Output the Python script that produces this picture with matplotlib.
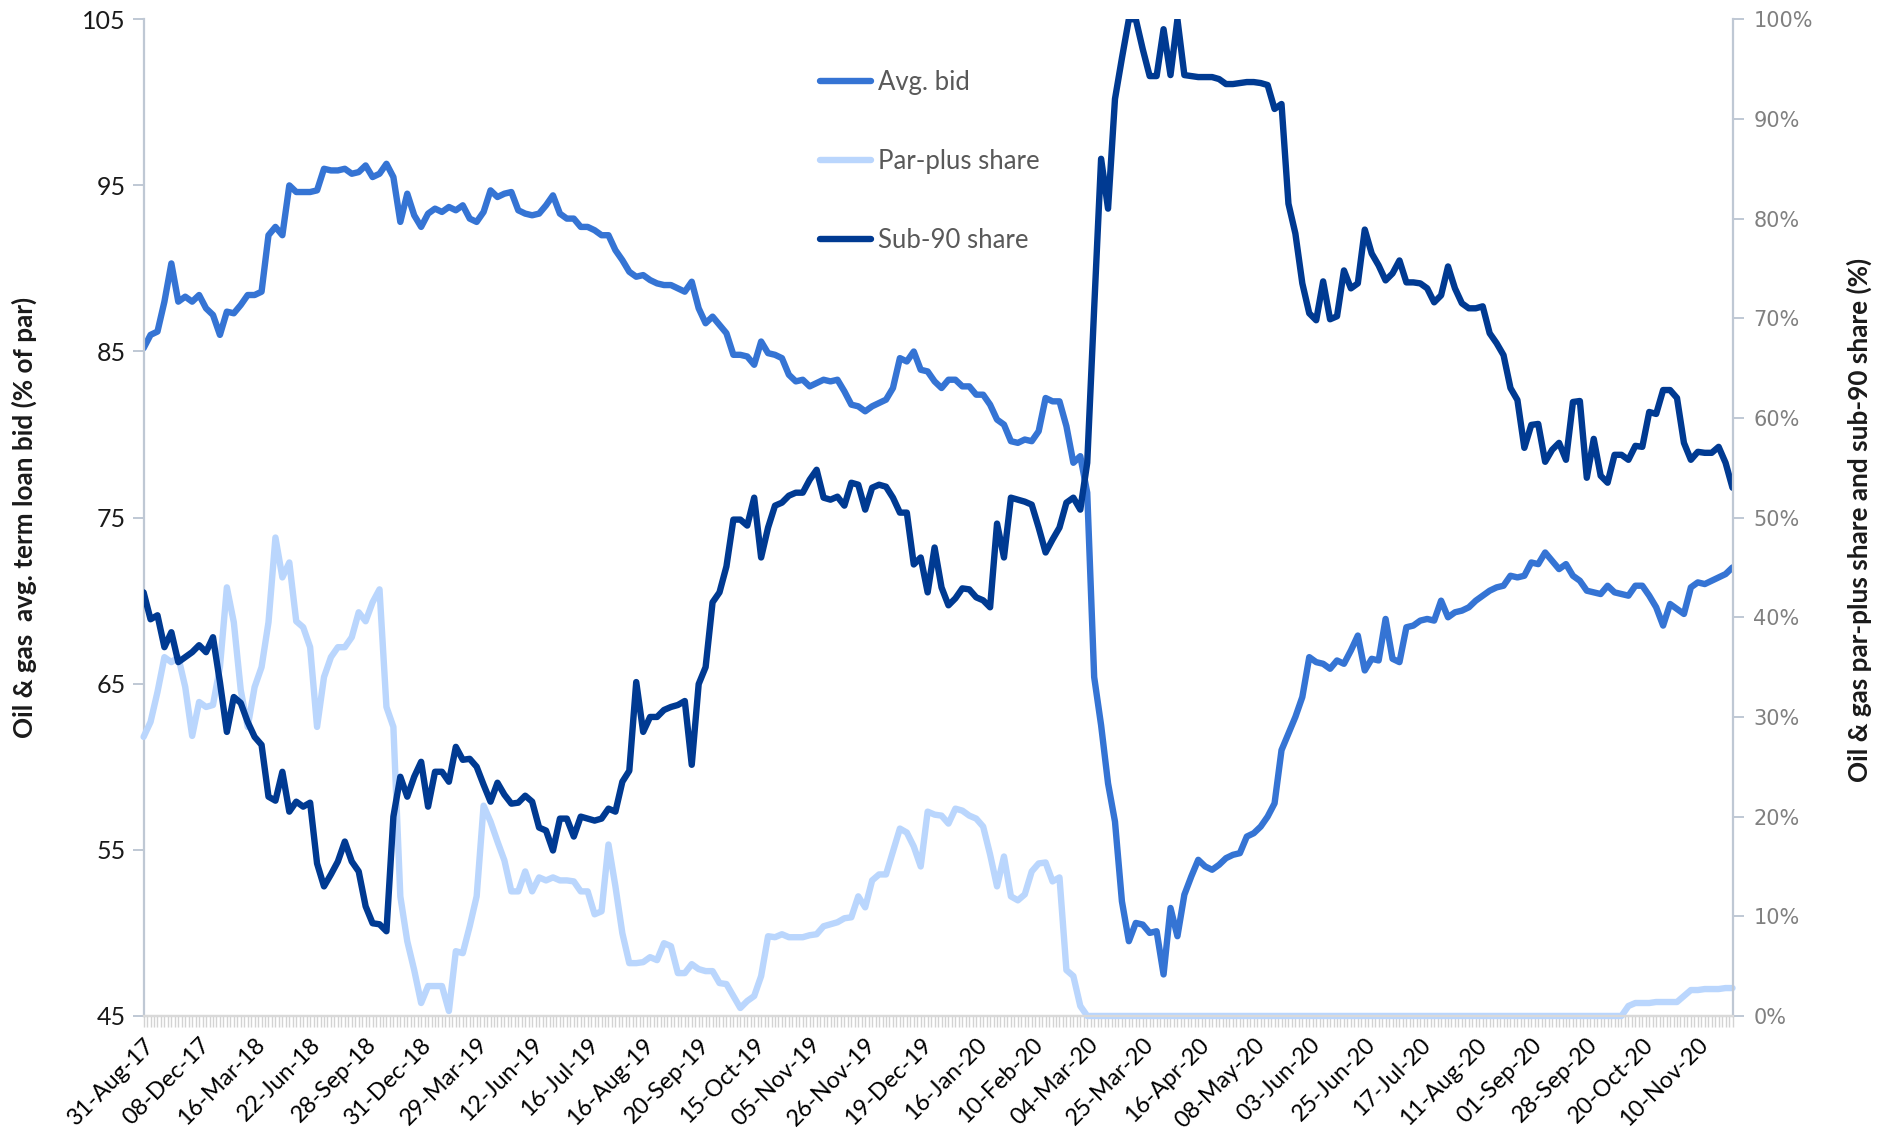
import numpy as np
import matplotlib
matplotlib.use('Agg')
import matplotlib.pyplot as plt
from matplotlib.ticker import MultipleLocator, FuncFormatter

plt.rcParams['font.family'] = ['Lato', 'DejaVu Sans']

# category axis: one label every 8 observations
date_labels = ['31-Aug-17', '08-Dec-17', '16-Mar-18', '22-Jun-18', '28-Sep-18',
               '31-Dec-18', '29-Mar-19', '12-Jun-19', '16-Jul-19', '16-Aug-19',
               '20-Sep-19', '15-Oct-19', '05-Nov-19', '26-Nov-19', '19-Dec-19',
               '16-Jan-20', '10-Feb-20', '04-Mar-20', '25-Mar-20', '16-Apr-20',
               '08-May-20', '03-Jun-20', '25-Jun-20', '17-Jul-20', '11-Aug-20',
               '01-Sep-20', '28-Sep-20', '20-Oct-20', '10-Nov-20']
label_step = 8

# avg. term loan bid (% of par), left axis
avg_bid = [
    85.2, 86.0, 86.2, 88.0, 90.3, 88.0, 88.3, 88.0, 88.4, 87.6,
    87.2, 86.0, 87.4, 87.3, 87.8, 88.4, 88.4, 88.6, 92.0, 92.5,
    92.0, 95.0, 94.6, 94.6, 94.6, 94.7, 96.0, 95.9, 95.9, 96.0,
    95.7, 95.8, 96.2, 95.5, 95.7, 96.3, 95.5, 92.8, 94.5, 93.2,
    92.5, 93.3, 93.6, 93.4, 93.7, 93.5, 93.8, 93.0, 92.8, 93.4,
    94.7, 94.3, 94.5, 94.6, 93.5, 93.3, 93.2, 93.3, 93.8, 94.4,
    93.3, 93.0, 93.0, 92.5, 92.5, 92.3, 92.0, 92.0, 91.1, 90.5,
    89.8, 89.5, 89.6, 89.3, 89.1, 89.0, 89.0, 88.8, 88.6, 89.2,
    87.6, 86.7, 87.1, 86.6, 86.1, 84.8, 84.8, 84.7, 84.2, 85.6,
    84.9, 84.8, 84.6, 83.6, 83.2, 83.3, 82.9, 83.1, 83.3, 83.2,
    83.3, 82.6, 81.8, 81.7, 81.4, 81.7, 81.9, 82.1, 82.8, 84.6,
    84.4, 85.0, 83.9, 83.8, 83.2, 82.8, 83.3, 83.3, 82.9, 82.9,
    82.4, 82.4, 81.8, 80.9, 80.6, 79.6, 79.5, 79.7, 79.6, 80.2,
    82.2, 82.0, 82.0, 80.5, 78.3, 78.7, 76.5, 65.4, 62.5, 59.0,
    56.7, 51.9, 49.5, 50.6, 50.5, 50.0, 50.1, 47.5, 51.5, 49.8,
    52.3, 53.4, 54.4, 54.0, 53.8, 54.1, 54.5, 54.7, 54.8, 55.8,
    56.0, 56.4, 57.0, 57.8, 61.0, 62.0, 63.0, 64.2, 66.6, 66.3,
    66.2, 65.9, 66.4, 66.2, 67.0, 67.9, 65.8, 66.5, 66.4, 68.9,
    66.5, 66.3, 68.4, 68.5, 68.8, 68.9, 68.8, 70.0, 69.0, 69.3,
    69.4, 69.6, 70.0, 70.3, 70.6, 70.8, 70.9, 71.5, 71.4, 71.5,
    72.3, 72.2, 72.9, 72.4, 71.9, 72.2, 71.5, 71.2, 70.6, 70.5,
    70.4, 70.9, 70.5, 70.4, 70.3, 70.9, 70.9, 70.3, 69.6, 68.5,
    69.8, 69.5, 69.2, 70.8, 71.1, 71.0, 71.2, 71.4, 71.6, 72.0,
]

# par-plus share (%), right axis
par_plus_share = [
    28.0, 29.5, 32.5, 36.0, 35.5, 36.0, 33.0, 28.1, 31.5, 31.0,
    31.2, 35.0, 43.0, 39.5, 32.7, 29.0, 33.0, 35.0, 39.5, 48.0,
    44.0, 45.5, 39.6, 39.0, 37.0, 29.0, 34.0, 36.0, 37.0, 37.0,
    38.0, 40.5, 39.6, 41.5, 42.8, 31.0, 29.0, 12.0, 7.5, 4.6,
    1.3, 3.0, 3.0, 3.0, 0.5, 6.5, 6.3, 9.0, 12.0, 21.1,
    19.5, 17.5, 15.6, 12.5, 12.5, 14.5, 12.5, 13.9, 13.6, 13.9,
    13.6, 13.6, 13.5, 12.5, 12.5, 10.2, 10.5, 17.2, 13.0, 8.3,
    5.3, 5.3, 5.4, 5.9, 5.6, 7.3, 7.0, 4.3, 4.3, 5.2,
    4.7, 4.5, 4.5, 3.3, 3.2, 2.0, 0.8, 1.5, 2.0, 4.0,
    8.0, 7.9, 8.2, 7.9, 7.9, 7.9, 8.1, 8.2, 9.0, 9.2,
    9.4, 9.8, 9.9, 12.0, 10.9, 13.6, 14.2, 14.2, 16.5, 18.8,
    18.4, 17.0, 15.0, 20.5, 20.2, 20.1, 19.3, 20.8, 20.6, 20.1,
    19.8, 19.0, 16.2, 13.0, 16.0, 12.0, 11.6, 12.2, 14.5, 15.3,
    15.4, 13.5, 13.9, 4.6, 4.0, 1.0, 0.0, 0.0, 0.0, 0.0,
    0.0, 0.0, 0.0, 0.0, 0.0, 0.0, 0.0, 0.0, 0.0, 0.0,
    0.0, 0.0, 0.0, 0.0, 0.0, 0.0, 0.0, 0.0, 0.0, 0.0,
    0.0, 0.0, 0.0, 0.0, 0.0, 0.0, 0.0, 0.0, 0.0, 0.0,
    0.0, 0.0, 0.0, 0.0, 0.0, 0.0, 0.0, 0.0, 0.0, 0.0,
    0.0, 0.0, 0.0, 0.0, 0.0, 0.0, 0.0, 0.0, 0.0, 0.0,
    0.0, 0.0, 0.0, 0.0, 0.0, 0.0, 0.0, 0.0, 0.0, 0.0,
    0.0, 0.0, 0.0, 0.0, 0.0, 0.0, 0.0, 0.0, 0.0, 0.0,
    0.0, 0.0, 0.0, 0.0, 1.0, 1.3, 1.3, 1.3, 1.4, 1.4,
    1.4, 1.4, 2.0, 2.6, 2.6, 2.7, 2.7, 2.7, 2.8, 2.8,
]

# sub-90 share (%), right axis
sub_90_share = [
    42.5, 39.8, 40.2, 37.0, 38.5, 35.5, 36.0, 36.5, 37.2, 36.5,
    38.0, 33.5, 28.5, 32.0, 31.4, 29.5, 28.0, 27.2, 22.0, 21.6,
    24.5, 20.5, 21.5, 21.0, 21.4, 15.3, 13.0, 14.2, 15.5, 17.5,
    15.5, 14.5, 11.0, 9.3, 9.2, 8.5, 20.0, 24.0, 22.0, 24.0,
    25.5, 21.0, 24.5, 24.5, 23.5, 27.0, 25.7, 25.8, 25.0, 23.2,
    21.5, 23.4, 22.2, 21.3, 21.4, 22.1, 21.5, 18.9, 18.6, 16.6,
    19.8, 19.8, 18.0, 20.0, 19.8, 19.6, 19.8, 20.8, 20.5, 23.5,
    24.6, 33.5, 28.5, 30.0, 30.0, 30.7, 31.0, 31.2, 31.6, 25.2,
    33.3, 35.0, 41.5, 42.5, 45.1, 49.8, 49.8, 49.2, 52.0, 46.0,
    49.0, 51.2, 51.5, 52.2, 52.5, 52.5, 53.8, 54.8, 52.0, 51.8,
    52.1, 51.2, 53.5, 53.3, 50.8, 53.0, 53.3, 53.1, 52.0, 50.5,
    50.5, 45.3, 46.0, 42.5, 47.0, 43.0, 41.2, 41.9, 42.9, 42.8,
    42.0, 41.7, 41.0, 49.4, 46.0, 52.0, 51.8, 51.6, 51.3, 49.0,
    46.5, 47.8, 49.0, 51.5, 52.0, 50.8, 55.5, 71.0, 86.0, 81.0,
    92.0, 96.1, 100.0, 100.0, 97.0, 94.3, 94.3, 99.0, 94.4, 100.0,
    94.4, 94.3, 94.2, 94.2, 94.2, 94.0, 93.5, 93.5, 93.6, 93.7,
    93.7, 93.6, 93.4, 91.0, 91.5, 81.5, 78.5, 73.5, 70.5, 69.8,
    73.7, 69.9, 70.2, 74.8, 73.0, 73.5, 78.9, 76.5, 75.3, 73.8,
    74.5, 75.8, 73.6, 73.6, 73.5, 73.0, 71.6, 72.3, 75.2, 73.0,
    71.5, 71.0, 71.0, 71.2, 68.5, 67.5, 66.3, 63.0, 61.8, 57.0,
    59.3, 59.4, 55.6, 56.8, 57.5, 55.8, 61.6, 61.7, 54.0, 57.9,
    54.2, 53.5, 56.3, 56.3, 55.8, 57.2, 57.1, 60.6, 60.4, 62.8,
    62.8, 62.0, 57.5, 55.8, 56.6, 56.5, 56.5, 57.1, 55.5, 53.0,
]

x = np.arange(len(avg_bid))

fig = plt.figure(figsize=(18.92, 11.33), dpi=100)
ax = fig.add_axes([0.0759, 0.1033, 0.8398, 0.8797])
ax2 = ax.twinx()

line_kw = dict(lw=4.6, solid_joinstyle='round', solid_capstyle='round')
l1, = ax.plot(x, avg_bid, color='#3574D4', label='Avg. bid', **line_kw)
l2, = ax2.plot(x, par_plus_share, color='#BAD6FD', label='Par-plus share',
               clip_on=False, **line_kw)
l3, = ax2.plot(x, sub_90_share, color='#003A92', label='Sub-90 share', **line_kw)

ax.set_xlim(0, len(avg_bid) - 1)
ax.set_ylim(45, 105)
ax2.set_ylim(0, 100)

ax.set_yticks(np.arange(45, 106, 10))
ax2.set_yticks(np.arange(0, 101, 10))
ax2.yaxis.set_major_formatter(FuncFormatter(lambda v, p: f'{v:.0f}%'))

ax.set_xticks(np.arange(0, len(avg_bid), label_step))
ax.set_xticklabels(date_labels, rotation=45, ha='right', rotation_mode='anchor')
ax.xaxis.set_minor_locator(MultipleLocator(0.5))

axis_col = '#BFC8D4'
for a in (ax, ax2):
    a.spines['top'].set_visible(False)
    a.spines['left'].set_color(axis_col)
    a.spines['right'].set_color(axis_col)
    a.spines['left'].set_linewidth(1.6)
    a.spines['right'].set_linewidth(1.6)
    a.spines['bottom'].set_color('#D9D9D9')
    a.spines['bottom'].set_linewidth(1.6)
ax.spines['right'].set_visible(False)
ax2.spines['left'].set_visible(False)

ax.tick_params(axis='x', which='both', length=8, width=1, color='#D3D3D3',
               labelsize=16.8, labelcolor='black', pad=5)
ax.tick_params(axis='y', length=8, width=1.4, color=axis_col,
               labelsize=18, labelcolor='#1A1A1A', pad=5)
ax2.tick_params(axis='y', length=8, width=1.4, color=axis_col,
                labelsize=15, labelcolor='#808080', pad=7)
for t in ax2.get_yticklabels():
    t.set_fontfamily('DejaVu Sans')

fig.text(0.0127, 0.543, 'Oil & gas  avg. term loan bid (% of par)', rotation=90,
         ha='center', va='center', fontsize=18.8, fontweight='bold', color='#1A1A1A')
fig.text(0.9826, 0.541, 'Oil & gas par-plus share and sub-90 share (%)', rotation=90,
         ha='center', va='center', fontsize=18.8, fontweight='bold', color='#1A1A1A')

leg = ax2.legend(handles=[l1, l2, l3], loc='upper left', bbox_to_anchor=(0.4334, 0.938),
                 bbox_transform=fig.transFigure, frameon=False, fontsize=18.5,
                 labelspacing=2.09, handlelength=2.0, handletextpad=0.25,
                 borderpad=0, borderaxespad=0)
for t in leg.get_texts():
    t.set_color('#595959')

plt.savefig('out.png', dpi=100)
